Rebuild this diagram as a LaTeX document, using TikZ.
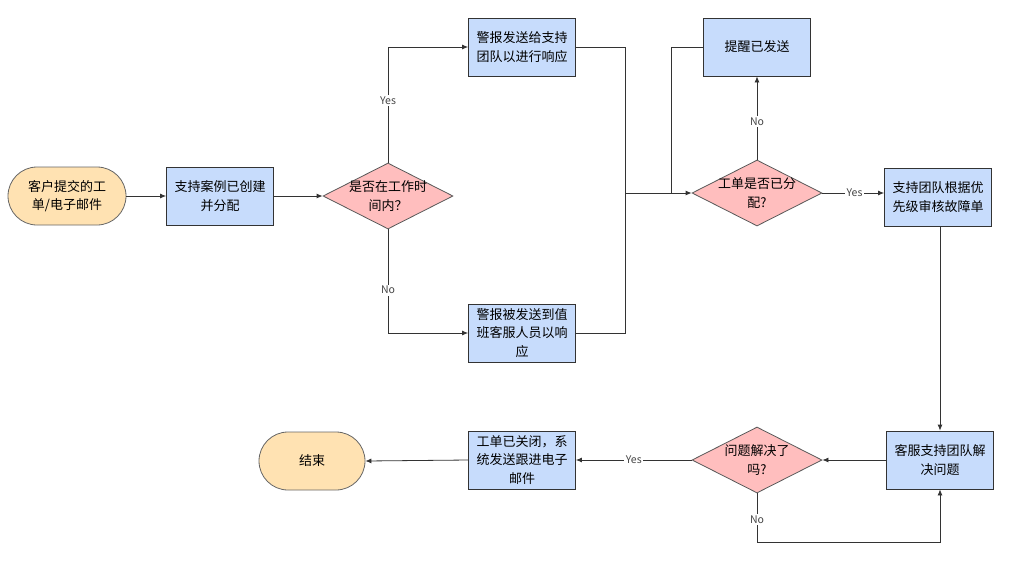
\documentclass[tikz,border=0pt]{standalone}
\usepackage{fontspec}
\setmainfont{Noto Sans CJK SC}
\usetikzlibrary{shapes.geometric,arrows.meta}
\definecolor{bluefill}{RGB}{199,220,252}
\definecolor{orangefill}{RGB}{255,226,178}
\definecolor{pinkfill}{RGB}{255,190,190}
\definecolor{edgec}{RGB}{51,51,51}
\definecolor{labc}{RGB}{70,70,70}
\tikzset{
  boxtext/.style={font=\fontsize{13}{18.5}\selectfont, align=center, text=black},
  procbox/.style={boxtext, draw=edgec, fill=bluefill, minimum width=107pt, minimum height=58pt, inner sep=1pt, line width=0.8pt},
  termbox/.style={boxtext, draw=gray!80!black, fill=orangefill, rounded corners=29pt, minimum width=118pt, minimum height=58pt, inner sep=1pt, line width=0.8pt},
  decbox/.style={diamond, draw=gray!70!black, fill=pinkfill, minimum width=130pt, minimum height=66pt, inner sep=0pt, line width=0.8pt},
  dectext/.style={boxtext},
  conn/.style={draw=edgec, line width=0.8pt},
  arr/.style={conn, -{Latex[length=6pt,width=5pt]}},
  elab/.style={font=\fontsize{10.5}{12}\selectfont, text=labc, fill=white, inner sep=1.5pt}
}
\begin{document}
\begin{tikzpicture}[x=1pt,y=-1pt]
\useasboundingbox (0,0) rectangle (1035,568);
% nodes
\node[termbox] (start) at (67,196) {客户提交的工\\单/电子邮件};
\node[procbox] (b1) at (220,196) {支持案例已创建\\并分配};
\node[decbox] (d1) at (388,196) {};
\node[dectext] (d1t) at (d1) {是否在工作时\\间内？};
\node[procbox] (a1) at (522,47) {警报发送给支持\\团队以进行响应};
\node[procbox] (a2) at (522,333) {警报被发送到值\\班客服人员以响\\应};
\coordinate (j) at (625,193);
\node[decbox] (d2) at (757,193) {};
\node[dectext] (d2t) at (d2) {工单是否已分\\配?};
\coordinate (j2) at (671,193);
\node[procbox] (r) at (757,47) {提醒已发送};
\node[procbox] (b3) at (938,197) {支持团队根据优\\先级审核故障单};
\node[procbox] (b4) at (940,460) {客服支持团队解\\决问题};
\node[decbox] (d3) at (757,460) {};
\node[dectext] (d3t) at (d3) {问题解决了\\吗?};
\node[procbox] (b5) at (522,460) {工单已关闭，系\\统发送跟进电子\\邮件};
\node[termbox, minimum width=106pt] (end) at (312,461) {结束};
% connectors
\draw[arr] (start) -- (b1);
\draw[arr] (b1) -- (d1.west);
\draw[arr] (d1.north) |- node[elab, pos=0.267] (lyes1) {Yes} (a1.west);
\draw[arr] (d1.south) |- node[elab, pos=0.293] (lno1) {No} (a2.west);
\draw[conn] (a1.east) -| (j);
\draw[conn] (a2.east) -| (j);
\draw[arr] (j) -- (d2.west);
\draw[conn] (r.west) -| (j2);
\draw[arr] (d2.north) -- node[elab, pos=0.46] (lno2) {No} (r.south);
\draw[arr] (d2.east) -- node[elab, pos=0.52] (lyes2) {Yes} (b3.west |- d2.east);
\draw[arr] (b3.south -| b4.north) -- (b4.north);
\draw[arr] (b4.west) -- (d3.east);
\draw[arr] (d3.west) -- node[elab, pos=0.5] (lyes3) {Yes} (b5.east);
\draw[arr] (b5.west) -- (end.east);
\draw[arr] (d3.south) -- node[elab, pos=0.53] (lno3) {No} ++(0,49) -| (b4.south);
\end{tikzpicture}
\end{document}
